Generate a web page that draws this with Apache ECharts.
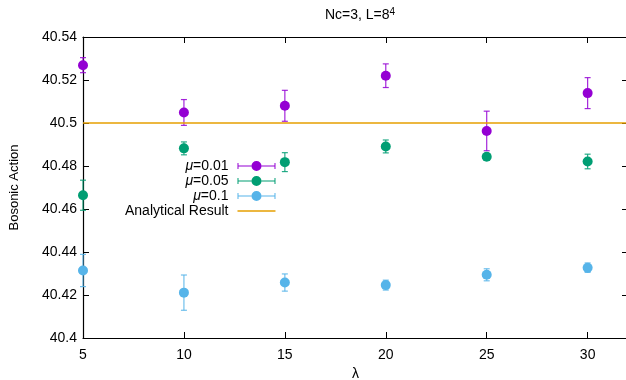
<!DOCTYPE html>
<html>
<head>
<meta charset="utf-8">
<script src="https://cdn.jsdelivr.net/npm/echarts@6/dist/echarts.min.js"></script>
<style>
  html, body { margin: 0; padding: 0; background: #fff; }
  #chart { width: 626px; height: 380px; }
</style>
</head>
<body>
<div id="chart"></div>
<script>
// lattice coupling values
const lambdas = [5, 10, 15, 20, 25, 30]

// mean bosonic action + errors per mu
const mu001Mean = [40.5269, 40.5049, 40.5080, 40.5220, 40.4963, 40.5139]
const mu001Err = [0.0035, 0.0060, 0.0072, 0.0055, 0.0092, 0.0072]
const mu005Mean = [40.4664, 40.4882, 40.4818, 40.4891, 40.4843, 40.4821]
const mu005Err = [0.0070, 0.0030, 0.0044, 0.0030, 0.0015, 0.0034]
const mu01Mean = [40.4314, 40.4211, 40.4258, 40.4246, 40.4294, 40.4327]
const mu01Err = [0.0075, 0.0082, 0.0040, 0.0023, 0.0028, 0.0022]

const analyticalValue = 40.5

const xMin = 5
const xMax = 32
const yMin = 40.4
const yMax = 40.54

const FONT = '"Liberation Sans", Arial, sans-serif'

// legend icon: error bar with a dot in the middle
const errIcon = 'path://M0,4.5H14V5.5H0Z M24,4.5H38V5.5H24Z M0,2H1V8H0Z M37,2H38V8H37Z M14,5A5,5 0 1,0 24,5A5,5 0 1,0 14,5Z'
const lineIcon = 'path://M0,4.3H38V5.7H0Z'

const groups = [
  { name: 'μ=0.01', mean: mu001Mean, err: mu001Err, color: '#9400d3' },
  { name: 'μ=0.05', mean: mu005Mean, err: mu005Err, color: '#009e73' },
  { name: 'μ=0.1', mean: mu01Mean, err: mu01Err, color: '#56b4e9' },
]

const renderErrBar = (params, api) => {
  const x = api.value(0)
  const top = api.coord([x, api.value(2)])
  const bot = api.coord([x, api.value(1)])
  const cap = 3
  const style = { stroke: api.visual('color'), lineWidth: 1.2, opacity: 0.85 }
  return {
    type: 'group',
    children: [
      { type: 'line', shape: { x1: top[0], y1: top[1], x2: bot[0], y2: bot[1] }, style },
      { type: 'line', shape: { x1: top[0] - cap, y1: top[1], x2: top[0] + cap, y2: top[1] }, style },
      { type: 'line', shape: { x1: bot[0] - cap, y1: bot[1], x2: bot[0] + cap, y2: bot[1] }, style },
    ],
  }
}

const series = []
groups.forEach((g) => {
  series.push({
    name: g.name,
    type: 'custom',
    renderItem: renderErrBar,
    itemStyle: { color: g.color },
    encode: { x: 0, y: [1, 2] },
    data: lambdas.map((l, i) => [l, g.mean[i] - g.err[i], g.mean[i] + g.err[i]]),
    clip: false,
    z: 2,
  })
  series.push({
    name: g.name,
    type: 'scatter',
    symbol: 'circle',
    symbolSize: 10,
    itemStyle: { color: g.color, opacity: 1 },
    data: lambdas.map((l, i) => [l, g.mean[i]]),
    clip: false,
    z: 3,
  })
})
series.push({
  name: 'Analytical Result',
  type: 'line',
  showSymbol: false,
  itemStyle: { color: '#e69f00' },
  lineStyle: { color: '#e69f00', width: 1.5 },
  data: [[xMin, analyticalValue], [xMax, analyticalValue]],
  z: 4,
})

const axisCommon = {
  axisLine: { show: true, onZero: false, lineStyle: { color: '#000', width: 1.2 } },
  axisTick: { show: true, inside: true, length: 6, lineStyle: { color: '#000' } },
  splitLine: { show: false },
}

const option = {
  animation: false,
  backgroundColor: '#fff',
  title: {
    text: 'Nc=3, L=8{sup|4}',
    left: 355,
    top: 2,
    textAlign: 'center',
    textStyle: {
      fontFamily: FONT,
      fontSize: 14,
      fontWeight: 'normal',
      color: '#000',
      rich: {
        sup: { fontFamily: FONT, fontSize: 10, color: '#000', verticalAlign: 'top', padding: [0, 0, 6, 0] },
      },
    },
  },
  grid: { left: 83, right: -2, top: 37, bottom: 42, containLabel: false, outerBoundsMode: 'none' },
  legend: {
    orient: 'vertical',
    align: 'right',
    left: 120,
    top: 154,
    itemWidth: 38,
    itemHeight: 10,
    itemGap: 1,
    selectedMode: false,
    data: [
      { name: 'μ=0.01', icon: errIcon },
      { name: 'μ=0.05', icon: errIcon },
      { name: 'μ=0.1', icon: errIcon },
      { name: 'Analytical Result', icon: lineIcon },
    ],
    formatter: (name) =>
      name.startsWith('μ') ? '{i|μ}{t|' + name.slice(1) + '}' : '{t|' + name + '}',
    textStyle: {
      fontFamily: FONT,
      fontSize: 14,
      color: '#000',
      lineHeight: 14,
      rich: {
        i: { fontFamily: FONT, fontSize: 14, fontStyle: 'italic', color: '#000', lineHeight: 14 },
        t: { fontFamily: FONT, fontSize: 14, color: '#000', lineHeight: 14, padding: [0, 4, 0, 0] },
      },
    },
  },
  xAxis: [
    {
      ...axisCommon,
      type: 'value',
      min: xMin,
      max: xMax,
      interval: 5,
      name: 'λ',
      nameLocation: 'middle',
      nameGap: 29,
      nameTextStyle: { fontFamily: FONT, fontSize: 14, color: '#000' },
      axisLabel: { fontFamily: FONT, fontSize: 14, color: '#000', margin: 10, showMaxLabel: false },
    },
    {
      ...axisCommon,
      type: 'value',
      position: 'top',
      min: xMin,
      max: xMax,
      interval: 5,
      axisLabel: { show: false },
    },
  ],
  yAxis: [
    {
      ...axisCommon,
      type: 'value',
      min: yMin,
      max: yMax,
      interval: 0.02,
      name: 'Bosonic Action',
      nameLocation: 'middle',
      nameGap: 62,
      nameTextStyle: { fontFamily: FONT, fontSize: 13, color: '#000' },
      axisLabel: { fontFamily: FONT, fontSize: 14, color: '#000', margin: 6 },
    },
    {
      ...axisCommon,
      type: 'value',
      position: 'right',
      min: yMin,
      max: yMax,
      interval: 0.02,
      // border sits just past the canvas edge, only the ticks show
      axisLine: { show: false },
      axisLabel: { show: false },
    },
  ],
  series: series,
}

const chart = echarts.init(document.getElementById('chart'), null, { renderer: 'canvas' })
chart.setOption(option)
</script>
</body>
</html>
